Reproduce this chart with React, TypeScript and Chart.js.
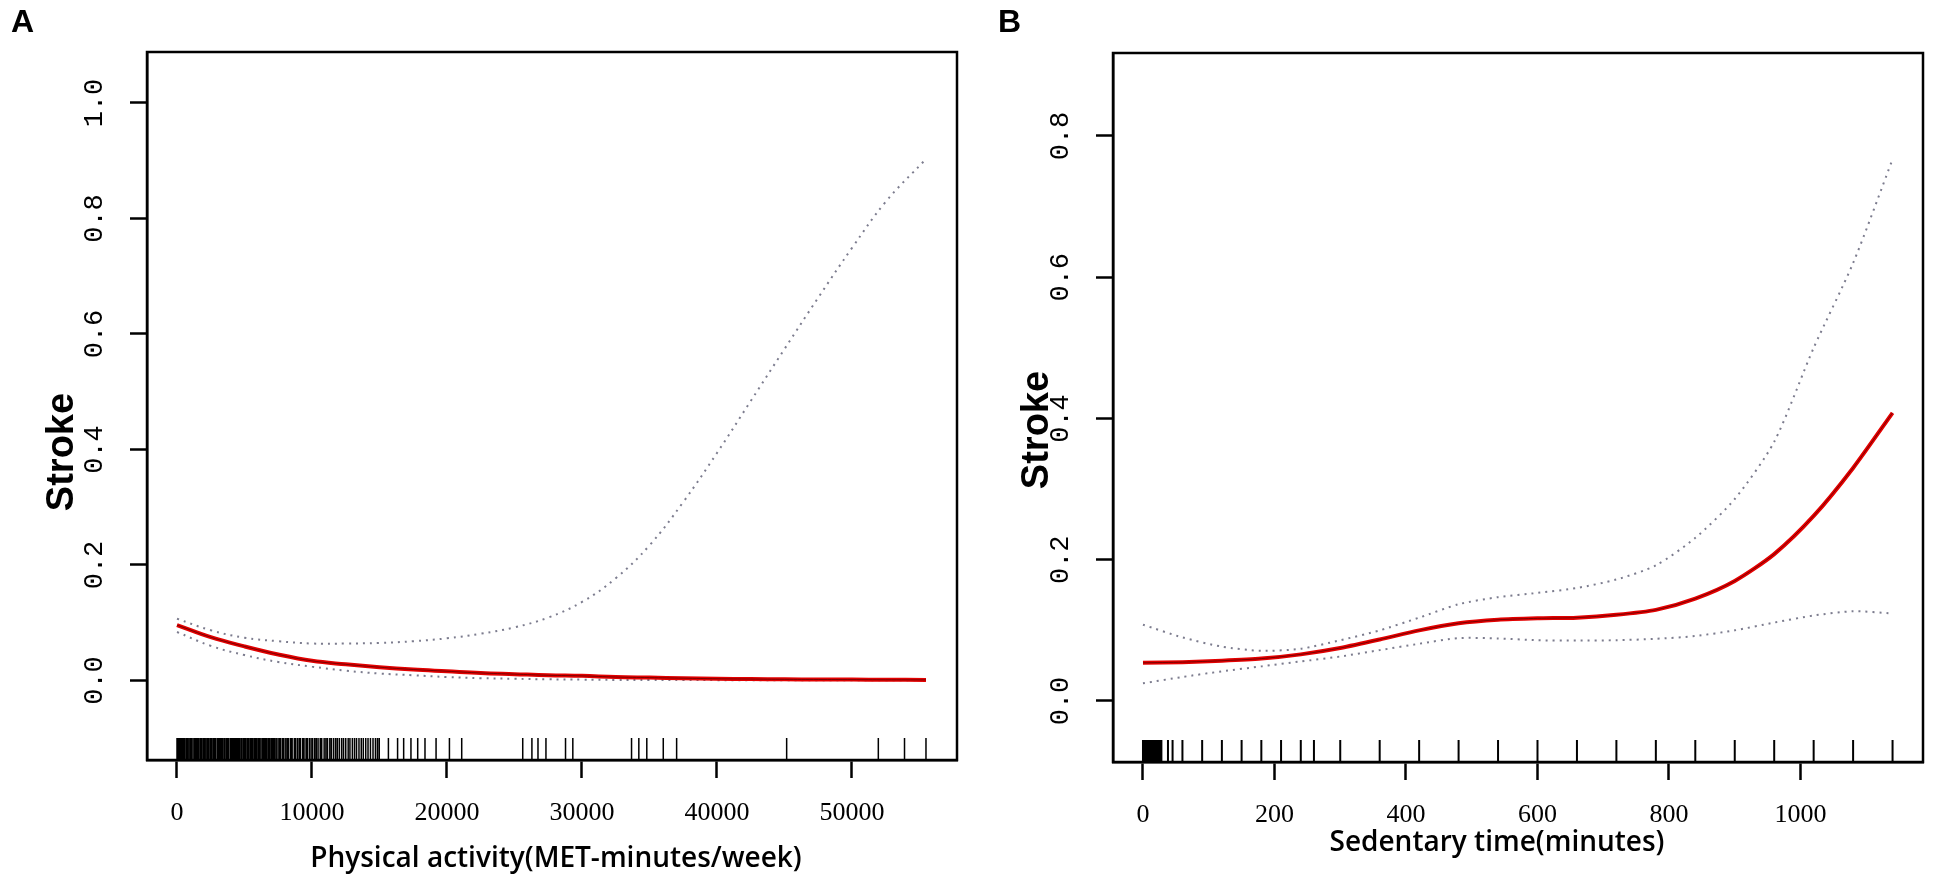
import { useEffect, useRef } from "react";
import { Chart, registerables } from "chart.js";

Chart.register(...registerables);

// Panel A: physical activity (MET-minutes/week)
const activityX = [0, 2500, 5000, 7500, 10000, 12500, 15000, 17500, 20000, 22500, 25000, 27500, 30000, 32500, 35000, 37500, 40000, 42500, 45000, 47500, 50000, 52500, 55480];
const activityFit = [0.096, 0.075, 0.059, 0.045, 0.034, 0.028, 0.023, 0.019, 0.016, 0.013, 0.011, 0.009, 0.008, 0.006, 0.005, 0.004, 0.003, 0.0025, 0.002, 0.0017, 0.0015, 0.0012, 0.001];
const activityUpper = [0.107, 0.087, 0.074, 0.068, 0.064, 0.064, 0.065, 0.068, 0.073, 0.081, 0.092, 0.109, 0.136, 0.177, 0.234, 0.309, 0.394, 0.484, 0.574, 0.663, 0.749, 0.829, 0.903];
const activityLower = [0.084, 0.06, 0.044, 0.032, 0.024, 0.017, 0.012, 0.009, 0.006, 0.004, 0.003, 0.002, 0.0015, 0.001, 0.001, 0.0008, 0.0006, 0.0005, 0.0004, 0.0003, 0.0003, 0.0002, 0.0002];
const activityRug = [
  0, 80, 190, 260, 370, 480, 540, 660, 750, 830, 950, 1040, 1120, 1250, 1330, 1440, 1520, 1610, 1730, 1800,
  1920, 2010, 2090, 2210, 2300, 2380, 2500, 2570, 2690, 2780, 2860, 2990, 3060, 3170, 3250, 3360, 3480, 3540,
  3660, 3750, 3830, 3960, 4040, 4130, 4240, 4330, 4420, 4530, 4610, 4730, 4800, 4920, 5010, 5100, 5220, 5290,
  5410, 5500, 5580, 5700, 5790, 5870, 5990, 6080, 6160, 6290, 6360, 6470, 6560, 6650, 6770, 6840, 6960, 7040,
  7150, 7230, 7350, 7480, 7600, 7690, 7830, 7920, 8060, 8180, 8270, 8420, 8530, 8690, 8780, 8920, 9050, 9140,
  9300, 9410, 9560, 9650, 9800, 9930, 10050, 10200, 10320, 10450, 10610, 10720, 10900, 11030, 11150, 11320,
  11440, 11600, 11750, 11880, 12030, 12200, 12340, 12500, 12680, 12810, 12990, 13150, 13300, 13480, 13650,
  13800, 13980, 14150, 14330, 14520, 14700, 14850, 14980, 15660, 16340, 16790, 17330, 17830, 18370, 19190,
  20180, 21090, 25610, 26290, 26740, 27330, 28780, 29320, 33670, 34210, 34800, 36020, 37010, 45160, 51950,
  53890, 55480,
];
const activityTicksX = [0, 10000, 20000, 30000, 40000, 50000];
const activityTicksY = [0, 0.2, 0.4, 0.6, 0.8, 1.0];

// Panel B: sedentary time (minutes)
const sedentaryX = [0, 60, 120, 180, 240, 300, 360, 420, 480, 540, 600, 660, 720, 780, 840, 900, 960, 1020, 1080, 1140];
const sedentaryFit = [0.054, 0.055, 0.057, 0.06, 0.066, 0.075, 0.087, 0.1, 0.11, 0.115, 0.117, 0.118, 0.122, 0.129, 0.145, 0.17, 0.208, 0.262, 0.33, 0.408];
const sedentaryUpper = [0.108, 0.09, 0.077, 0.071, 0.074, 0.086, 0.1, 0.118, 0.137, 0.147, 0.153, 0.16, 0.172, 0.192, 0.231, 0.286, 0.367, 0.5, 0.62, 0.767];
const sedentaryLower = [0.025, 0.034, 0.042, 0.049, 0.056, 0.063, 0.072, 0.081, 0.089, 0.0885, 0.086, 0.0855, 0.086, 0.088, 0.092, 0.1, 0.111, 0.121, 0.127, 0.124];
const sedentaryRug = [0, 2, 5, 7, 10, 12, 15, 17, 20, 22, 25, 28, 38, 45, 60, 90, 120, 150, 180, 210, 240, 260, 300, 360, 420, 480, 540, 600, 660, 720, 780, 840, 900, 960, 1020, 1080, 1140];
const sedentaryTicksX = [0, 200, 400, 600, 800, 1000];
const sedentaryTicksY = [0, 0.2, 0.4, 0.6, 0.8];

const HEIGHT = 880;

interface PanelProps {
  left: number;
  width: number;
  letter: string;
  letterX: number;
  xs: number[];
  fit: number[];
  upper: number[];
  lower: number[];
  rug: number[];
  rugWidth: number;
  ticksX: number[];
  ticksY: number[];
  xMin: number;
  xMax: number;
  yMin: number;
  yMax: number;
  box: { left: number; right: number; top: number; bottom: number };
  xTitle: string;
  xTitleX: number;
  xTitleY: number;
  yTitleX: number;
  yTitleY: number;
  tension: number;
}

const Panel = (p: PanelProps) => {
  const ref = useRef<HTMLCanvasElement | null>(null);

  useEffect(() => {
    const ctx = ref.current?.getContext("2d");
    if (!ctx) return;

    const pts = (ys: number[]) => p.xs.map((x, i) => ({ x, y: ys[i] }));
    const ciStyle = {
      borderColor: "rgba(110,110,130,0.9)",
      borderWidth: 2,
      borderDash: [2, 5],
      pointRadius: 0,
      tension: p.tension,
    };

    const decor = {
      id: "decor",
      afterDatasetsDraw(chart: any) {
        const { ctx, chartArea, scales } = chart;
        ctx.save();
        ctx.strokeStyle = "#000";
        ctx.lineWidth = p.rugWidth;
        ctx.beginPath();
        for (const v of p.rug) {
          const x = scales.x.getPixelForValue(v);
          ctx.moveTo(x, chartArea.bottom);
          ctx.lineTo(x, chartArea.bottom - 22);
        }
        ctx.stroke();
        ctx.restore();
      },
      afterDraw(chart: any) {
        const { ctx, chartArea } = chart;
        ctx.save();
        ctx.strokeStyle = "#000";
        ctx.lineWidth = 2.5;
        ctx.strokeRect(chartArea.left, chartArea.top, chartArea.right - chartArea.left, chartArea.bottom - chartArea.top);

        ctx.fillStyle = "#000";
        ctx.textBaseline = "alphabetic";
        ctx.textAlign = "left";
        ctx.font = "bold 32px 'Liberation Sans'";
        ctx.fillText(p.letter, p.letterX, 32);

        ctx.textAlign = "center";
        ctx.font = "600 28px 'Open Sans'";
        ctx.fillText(p.xTitle, p.xTitleX, p.xTitleY);

        ctx.translate(p.yTitleX, p.yTitleY);
        ctx.rotate(-Math.PI / 2);
        ctx.textBaseline = "middle";
        ctx.font = "bold 38px 'Liberation Sans'";
        ctx.fillText("Stroke", 0, 0);
        ctx.restore();
      },
    };

    const chart = new Chart(ctx, {
      type: "line",
      data: {
        datasets: [
          { data: pts(p.fit), borderColor: "rgba(50,0,0,0.6)", borderWidth: 1, pointRadius: 0, tension: p.tension },
          { data: pts(p.fit), borderColor: "#e30000", borderWidth: 4, pointRadius: 0, tension: p.tension },
          { data: pts(p.upper), ...ciStyle },
          { data: pts(p.lower), ...ciStyle },
        ],
      },
      options: {
        animation: false,
        responsive: false,
        devicePixelRatio: 1,
        layout: { padding: { top: p.box.top, right: p.width - p.box.right, left: 0, bottom: 0 } },
        plugins: { legend: { display: false }, tooltip: { enabled: false } },
        scales: {
          x: {
            type: "linear",
            min: p.xMin,
            max: p.xMax,
            afterBuildTicks: (s: any) => {
              s.ticks = p.ticksX.map((value) => ({ value }));
            },
            afterFit: (s: any) => {
              s.height = HEIGHT - p.box.bottom;
            },
            ticks: {
              maxRotation: 0,
              autoSkip: false,
              padding: 20,
              color: "#000",
              font: { family: "'Liberation Serif'", size: 26 },
              callback: (v: any) => String(v),
            },
            grid: { drawOnChartArea: false, drawTicks: true, tickLength: 18, tickColor: "#000", tickWidth: 2.5 },
            border: { display: true, color: "#000", width: 2.5 },
          },
          y: {
            type: "linear",
            min: p.yMin,
            max: p.yMax,
            afterBuildTicks: (s: any) => {
              s.ticks = p.ticksY.map((value) => ({ value }));
            },
            afterFit: (s: any) => {
              s.width = p.box.left;
            },
            ticks: {
              minRotation: 90,
              maxRotation: 90,
              crossAlign: "center",
              padding: 11,
              color: "#000",
              font: { family: "'Liberation Mono'", size: 27 },
              callback: (v: any) => Number(v).toFixed(1),
            },
            grid: { drawOnChartArea: false, drawTicks: true, tickLength: 17, tickColor: "#000", tickWidth: 2.5 },
            border: { display: true, color: "#000", width: 2.5 },
          },
        },
      } as any,
      plugins: [decor],
    });

    return () => {
      chart.destroy();
    };
  }, [p]);

  return (
    <canvas
      ref={ref}
      width={p.width}
      height={HEIGHT}
      style={{ position: "absolute", left: p.left, top: 0, width: p.width, height: HEIGHT }}
    ></canvas>
  );
};

const panelA: PanelProps = {
  left: 0,
  width: 968,
  letter: "A",
  letterX: 11,
  xs: activityX,
  fit: activityFit,
  upper: activityUpper,
  lower: activityLower,
  rug: activityRug,
  rugWidth: 1.5,
  ticksX: activityTicksX,
  ticksY: activityTicksY,
  xMin: -2222,
  xMax: 57778,
  yMin: -0.1377,
  yMax: 1.0883,
  box: { left: 147, right: 957, top: 52, bottom: 760 },
  xTitle: "Physical activity(MET-minutes/week)",
  xTitleX: 556,
  xTitleY: 867,
  yTitleX: 63,
  yTitleY: 452,
  tension: 0.4,
};

const panelB: PanelProps = {
  left: 968,
  width: 969,
  letter: "B",
  letterX: 30,
  xs: sedentaryX,
  fit: sedentaryFit,
  upper: sedentaryUpper,
  lower: sedentaryLower,
  rug: sedentaryRug,
  rugWidth: 2,
  ticksX: sedentaryTicksX,
  ticksY: sedentaryTicksY,
  xMin: -45.6,
  xMax: 1186.3,
  yMin: -0.0864,
  yMax: 0.9175,
  box: { left: 145, right: 955, top: 53, bottom: 762 },
  xTitle: "Sedentary time(minutes)",
  xTitleX: 529,
  xTitleY: 851,
  yTitleX: 70,
  yTitleY: 430,
  tension: 0.25,
};

export default function App() {
  return (
    <div style={{ position: "fixed", left: 0, top: 0, width: 1937, height: HEIGHT, background: "#fff" }}>
      <Panel {...panelA} />
      <Panel {...panelB} />
    </div>
  );
}
